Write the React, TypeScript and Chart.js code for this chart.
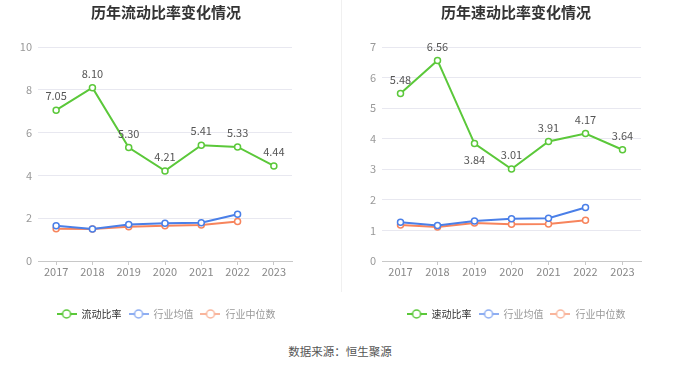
import React, { useEffect, useRef } from 'react';
import { Chart, registerables } from 'chart.js';

Chart.register(...registerables);

const years = ['2017', '2018', '2019', '2020', '2021', '2022', '2023'];

const currentRatio = [7.05, 8.1, 5.3, 4.21, 5.41, 5.33, 4.44];
const currentIndustryAvg = [1.65, 1.5, 1.7, 1.76, 1.79, 2.18, null];
const currentIndustryMedian = [1.51, 1.5, 1.6, 1.65, 1.68, 1.85, null];

const quickRatio = [5.48, 6.56, 3.84, 3.01, 3.91, 4.17, 3.64];
const quickIndustryAvg = [1.27, 1.16, 1.31, 1.38, 1.4, 1.75, null];
const quickIndustryMedian = [1.18, 1.11, 1.24, 1.2, 1.21, 1.33, null];

const leftTitle = '历年流动比率变化情况';
const rightTitle = '历年速动比率变化情况';
const leftSeriesName = '流动比率';
const rightSeriesName = '速动比率';
const avgName = '行业均值';
const medianName = '行业中位数';
const sourceText = '数据来源：恒生聚源';

const GREEN = '#5bc83a';
const BLUE = '#4a7fe8';
const ORANGE = '#f7845c';
const FONT = '"Noto Sans CJK SC", "Noto Sans", sans-serif';

function makeIcon(color: string): HTMLCanvasElement {
  const c = document.createElement('canvas');
  c.width = 20;
  c.height = 12;
  const ctx = c.getContext('2d')!;
  ctx.strokeStyle = color;
  ctx.lineWidth = 2;
  ctx.beginPath();
  ctx.moveTo(0, 6);
  ctx.lineTo(20, 6);
  ctx.stroke();
  ctx.beginPath();
  ctx.arc(10, 6, 4, 0, Math.PI * 2);
  ctx.fillStyle = '#fff';
  ctx.fill();
  ctx.lineWidth = 1.5;
  ctx.stroke();
  return c;
}

type Props = {
  title: string;
  seriesName: string;
  main: number[];
  avg: (number | null)[];
  median: (number | null)[];
  yMax: number;
  yStep: number;
  below: number[];
  yWidth: number;
  rightWidth: number;
};

function RatioChart(p: Props) {
  const ref = useRef<HTMLCanvasElement | null>(null);
  useEffect(() => {
    if (!ref.current) return;
    const icons = [makeIcon(GREEN), makeIcon('#8eaef2'), makeIcon('#f9b59c')];
    const fontColors = ['#333', '#999', '#999'];
    const labelPlugin = {
      id: 'valueLabels',
      afterDatasetsDraw(chart: any) {
        const ctx = chart.ctx;
        const meta = chart.getDatasetMeta(0);
        ctx.save();
        ctx.font = `11px ${FONT}`;
        ctx.fillStyle = '#555';
        ctx.textAlign = 'center';
        ctx.textBaseline = 'middle';
        meta.data.forEach((pt: any, i: number) => {
          const v = p.main[i];
          const dy = p.below.includes(i) ? 16 : -14;
          ctx.fillText(v.toFixed(2), pt.x, pt.y + dy);
        });
        ctx.restore();
      },
    };
    const ds = (label: string, data: any[], color: string) => ({
      label,
      data,
      borderColor: color,
      backgroundColor: color,
      borderWidth: 2,
      pointRadius: 3,
      pointHoverRadius: 3,
      pointBackgroundColor: '#fff',
      pointBorderColor: color,
      pointBorderWidth: 1.5,
      tension: 0,
      spanGaps: false,
    });
    const chart = new Chart(ref.current, {
      type: 'line',
      data: {
        labels: years,
        datasets: [
          ds(p.seriesName, p.main, GREEN),
          ds(avgName, p.avg, BLUE),
          ds(medianName, p.median, ORANGE),
        ],
      },
      options: {
        animation: false,
        responsive: true,
        maintainAspectRatio: false,
        layout: { padding: { left: 0, right: 0, top: 0, bottom: 6 } },
        plugins: {
          tooltip: { enabled: false },
          title: {
            display: true,
            text: p.title,
            color: '#333',
            font: { size: 15, weight: 'bold', family: FONT },
            padding: { top: 3, bottom: 26 },
          },
          legend: {
            position: 'bottom',
            labels: {
              usePointStyle: true,
              pointStyleWidth: 20,
              padding: 7,
              font: { size: 10, family: FONT },
              generateLabels: (chart: any) =>
                chart.data.datasets.map((d: any, i: number) => ({
                  text: d.label,
                  pointStyle: icons[i],
                  fillStyle: d.borderColor,
                  strokeStyle: d.borderColor,
                  fontColor: fontColors[i],
                  lineWidth: 0,
                  hidden: false,
                  datasetIndex: i,
                })),
            },
          },
        },
        scales: {
          x: {
            offset: true,
            grid: {
              display: true,
              drawOnChartArea: false,
              drawTicks: true,
              tickLength: 4,
              color: '#c8c8c8',
              offset: false,
            },
            border: { display: true, color: '#c8c8c8', width: 1 },
            ticks: { color: '#888', font: { size: 11, family: FONT }, padding: 0 },
            afterFit: (s: any) => {
              s.height = 41;
            },
          },
          y: {
            min: 0,
            max: p.yMax,
            ticks: {
              stepSize: p.yStep,
              color: '#999',
              font: { size: 11, family: FONT },
              padding: 6,
            },
            grid: { color: '#e8e8f0', drawTicks: false },
            border: { display: false },
            afterFit: (s: any) => {
              s.width = p.yWidth;
            },
          },
          yPad: {
            position: 'right',
            display: true,
            min: 0,
            max: 1,
            ticks: { display: false },
            grid: { display: false, drawTicks: false },
            border: { display: false },
            afterFit: (s: any) => {
              s.width = p.rightWidth;
            },
          },
        },
      } as any,
      plugins: [labelPlugin],
    });
    return () => chart.destroy();
  }, []);
  return <canvas ref={ref} />;
}

export default function App() {
  return (
    <div
      style={{
        position: 'absolute',
        left: 0,
        top: 0,
        width: 680,
        height: 367,
        background: '#fff',
        fontFamily: FONT,
        overflow: 'hidden',
      }}
    >
      <div style={{ position: 'absolute', left: 0, top: 0, width: 332, height: 335 }}>
        <RatioChart
          title={leftTitle}
          seriesName={leftSeriesName}
          main={currentRatio}
          avg={currentIndustryAvg}
          median={currentIndustryMedian}
          yMax={10}
          yStep={2}
          below={[]}
          yWidth={38}
          rightWidth={40}
        />
      </div>
      <div style={{ position: 'absolute', left: 341, top: 0, width: 1, height: 292, background: '#f0f0f0' }} />
      <div style={{ position: 'absolute', left: 360, top: 0, width: 312, height: 335 }}>
        <RatioChart
          title={rightTitle}
          seriesName={rightSeriesName}
          main={quickRatio}
          avg={quickIndustryAvg}
          median={quickIndustryMedian}
          yMax={7}
          yStep={1}
          below={[2]}
          yWidth={22}
          rightWidth={31}
        />
      </div>
      <div
        style={{
          position: 'absolute',
          left: 0,
          top: 343,
          width: 680,
          textAlign: 'center',
          fontSize: 11.5,
          color: '#555',
          lineHeight: '16px',
        }}
      >
        {sourceText}
      </div>
    </div>
  );
}
